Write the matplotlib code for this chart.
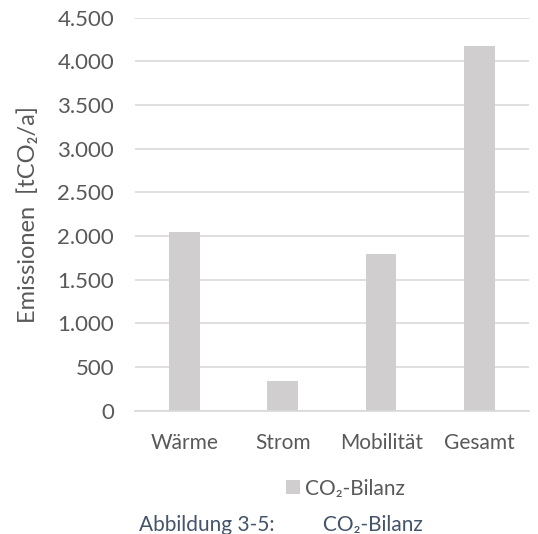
import matplotlib.pyplot as plt
from matplotlib.ticker import FuncFormatter

# CO2 balance per sector (t CO2 per year)
categories = ['Wärme', 'Strom', 'Mobilität', 'Gesamt']
emissions = [2040, 340, 1790, 4175]
y_ticks = [0, 500, 1000, 1500, 2000, 2500, 3000, 3500, 4000, 4500]

plt.rcParams['font.family'] = ['Lato', 'DejaVu Sans']
text_color = '#595959'
fs = 15

fig = plt.figure(figsize=(5.38, 5.34), dpi=100)
ax = fig.add_axes([0.251, 0.231, 0.732, 0.736])

ax.bar(range(len(categories)), emissions, width=0.31, color='#D0CECE', label='CO₂-Bilanz', zorder=2)

ax.set_xlim(-0.5, len(categories) - 0.5)
ax.set_ylim(0, 4500)
ax.set_yticks(y_ticks)
ax.yaxis.set_major_formatter(FuncFormatter(lambda v, p: f'{int(v):,}'.replace(',', '.')))
ax.set_xticks(range(len(categories)))
ax.set_xticklabels(categories)

ax.grid(axis='y', color='#D9D9D9', linewidth=1.2, zorder=0)
for side in ['top', 'right', 'left']:
    ax.spines[side].set_visible(False)
ax.spines['bottom'].set_color('#D9D9D9')
ax.spines['bottom'].set_linewidth(1.2)
ax.tick_params(axis='both', length=0, colors=text_color, labelsize=fs)
ax.tick_params(axis='y', pad=15, labelsize=16)
ax.tick_params(axis='x', pad=16)

ax.set_ylabel('Emissionen  [tCO₂/a]', color=text_color, fontsize=17, labelpad=13)

ax.legend(loc='upper center', bbox_to_anchor=(0.535, -0.125), frameon=False, fontsize=fs,
          labelcolor=text_color, handlelength=0.65, handleheight=0.65, handletextpad=0.25)

fig.text(0.258, 0.006, 'Abbildung 3-5:         CO₂-Bilanz', color='#44546A', fontsize=fs)

fig.savefig('out.png', dpi=100)
